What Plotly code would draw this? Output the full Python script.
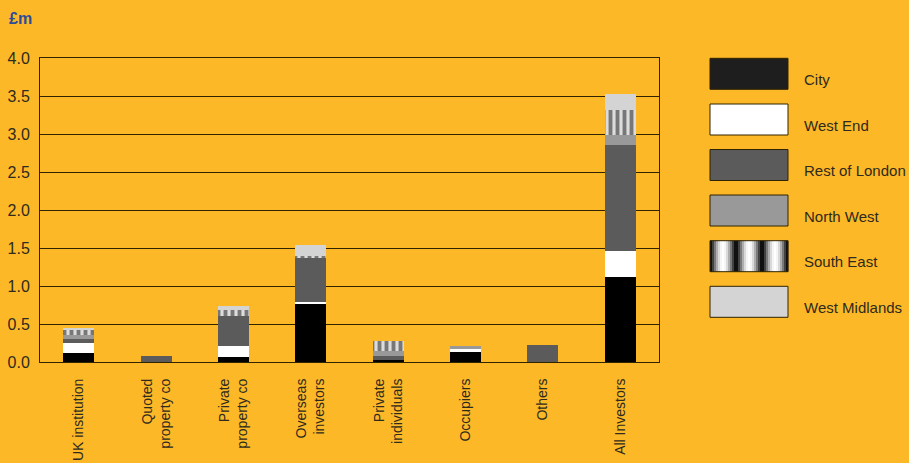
import math
import plotly.graph_objects as go

categories = ["UK institution", "Quoted<br>property co", "Private<br>property co",
              "Overseas<br>investors", "Private<br>individuals", "Occupiers",
              "Others", "All Investors"]
series_names = ["City", "West End", "Rest of London", "North West", "South East", "West Midlands"]
city =          [0.125, 0.0,   0.06,  0.775, 0.03,  0.13,  0.0,  1.125]
west_end =      [0.12,  0.0,   0.145, 0.015, 0.0,   0.05,  0.0,  0.34]
rest_of_london = [0.06, 0.085, 0.395, 0.575, 0.055, 0.0,   0.23, 1.385]
north_west =    [0.045, 0.0,   0.0,   0.0,   0.055, 0.025, 0.0,  0.14]
south_east =    [0.08,  0.0,   0.09,  0.035, 0.135, 0.0,   0.0,  0.33]
west_midlands = [0.015, 0.0,   0.045, 0.145, 0.0,   0.0,   0.0,  0.20]
y_ticks = [0.0, 0.5, 1.0, 1.5, 2.0, 2.5, 3.0, 3.5, 4.0]

BG = "#FDB827"
TXT = "#2e2a1e"
LINE = "#2f2300"
FONT = "Liberation Sans, Arial, Helvetica, sans-serif"

W, H = 909, 463
L, R, T, B = 40, 250, 58, 101
PW, PH = W - L - R, H - T - B

def px(x):
    return (x - L) / PW

def py(y):
    return (H - B - y) / PH

fig = go.Figure()
fills = {
    "City": "#000000",
    "West End": "#ffffff",
    "Rest of London": "#5b5b5b",
    "North West": "#999999",
    "West Midlands": "#d4d4d4",
}
data = [city, west_end, rest_of_london, north_west, south_east, west_midlands]
for name, vals in zip(series_names, data):
    if name == "South East":
        marker = dict(color="#dcdcdc",
                      pattern=dict(shape="|", fgcolor="#111111", bgcolor="#dcdcdc",
                                   size=7, solidity=0.55),
                      line=dict(width=0))
    else:
        marker = dict(color=fills[name], line=dict(width=0))
    fig.add_trace(go.Bar(x=categories, y=vals, name=name, marker=marker,
                         showlegend=False))

shapes = []
annotations = []
# manual legend
box_x0, box_x1 = 710, 788
tops = [58.3, 104, 149.5, 195, 240.7, 286.3]
box_h = 31
for name, top in zip(series_names, tops):
    if name == "South East":
        cyl_w = (box_x1 - box_x0) / 3.0
        n = 13
        for c in range(3):
            for k in range(n):
                t = (k + 0.5) / n
                v = int(255 * (math.sin(math.pi * t) ** 1.3))
                col = "rgb(%d,%d,%d)" % (v, v, v)
                xa = box_x0 + c * cyl_w + k * cyl_w / n
                xb = xa + cyl_w / n + 0.3
                shapes.append(dict(type="rect", xref="paper", yref="paper",
                                   x0=px(xa), x1=px(xb), y0=py(top + box_h), y1=py(top),
                                   fillcolor=col, line=dict(width=0), layer="above"))
        shapes.append(dict(type="rect", xref="paper", yref="paper",
                           x0=px(box_x0), x1=px(box_x1), y0=py(top + box_h), y1=py(top),
                           fillcolor="rgba(0,0,0,0)", line=dict(width=1, color=LINE), layer="above"))
    else:
        fc = "#1e1e1e" if name == "City" else fills[name]
        shapes.append(dict(type="rect", xref="paper", yref="paper",
                           x0=px(box_x0), x1=px(box_x1), y0=py(top + box_h), y1=py(top),
                           fillcolor=fc, line=dict(width=1, color=LINE), layer="above"))
    annotations.append(dict(text=name, xref="paper", yref="paper",
                            x=px(802), y=py(top + box_h / 2 + 5.5),
                            xanchor="left", yanchor="middle", showarrow=False,
                            font=dict(family=FONT, size=15, color=TXT)))

annotations.append(dict(text="<b>£m</b>", xref="paper", yref="paper",
                        x=px(7), y=py(18), xanchor="left", yanchor="middle",
                        showarrow=False, font=dict(family=FONT, size=16, color="#2b4c9b")))

fig.update_layout(
    width=W, height=H,
    margin=dict(l=L, r=R, t=T, b=B, autoexpand=False),
    paper_bgcolor=BG, plot_bgcolor=BG,
    barmode="stack", bargap=0.6,
    font=dict(family=FONT, size=14, color=TXT),
    shapes=shapes, annotations=annotations,
    showlegend=False,
)
fig.update_xaxes(showgrid=False, showline=True, mirror=True, linecolor=LINE, linewidth=1,
                 tickangle=-90, tickfont=dict(size=14, family=FONT, color=TXT),
                 ticks="", ticklabelstandoff=10, automargin=False, fixedrange=True)
fig.update_yaxes(range=[0, 4], tickvals=y_ticks, ticktext=["%.1f" % v for v in y_ticks],
                 showgrid=True, gridcolor=LINE, gridwidth=1,
                 showline=True, mirror=True, linecolor=LINE, linewidth=1,
                 zeroline=False, ticks="", ticklabelstandoff=6,
                 tickfont=dict(size=16, family=FONT, color=TXT), automargin=False,
                 fixedrange=True)

fig.write_html("out.html", config={"displayModeBar": False},
               post_script="document.body.style.margin='0';document.body.style.overflow='hidden';")
